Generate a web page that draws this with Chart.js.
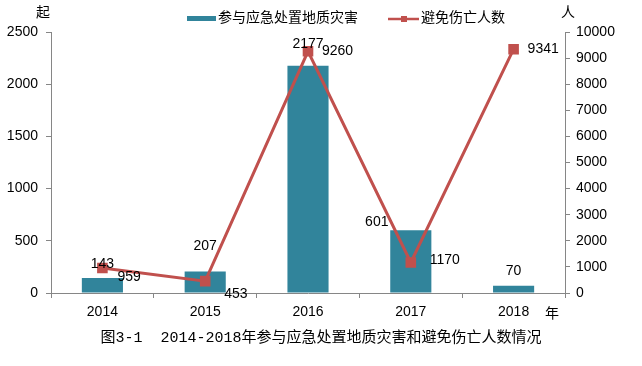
<!DOCTYPE html>
<html><head><meta charset="utf-8">
<script src="https://cdn.jsdelivr.net/npm/chart.js@4.4.0/dist/chart.umd.min.js"></script>
<style>html,body{margin:0;padding:0;background:#fff;}#wrap{width:642px;height:366px;position:relative;}</style>
</head><body><div id="wrap"><canvas id="c" width="642" height="366"></canvas></div>
<script>
const categories = ['2014','2015','2016','2017','2018'];
const disasters = [143, 207, 2177, 601, 70];
const avoided = [959, 453, 9260, 1170, 9341];
const leftTicks = [0, 500, 1000, 1500, 2000, 2500];
const rightTicks = [0,1000,2000,3000,4000,5000,6000,7000,8000,9000,10000];
const seriesNames = ['参与应急处置地质灾害', '避免伤亡人数'];
const caption = '图3-1  2014-2018年参与应急处置地质灾害和避免伤亡人数情况';

const BAR = '#31849B', LINE = '#C0504D';
const NUMFAM = 'Arial, "Liberation Sans", sans-serif';
const NUMFONT = '14px Arial, "Liberation Sans", sans-serif';
const CJKFONT = '14px "Noto Sans CJK SC", sans-serif';

// label offsets (px) relative to the mark
const barLabelOff = [[0,-14],[0,-25],[0,-22],[-34,-8],[0,-15]];
const lineLabelOff = [[15,9],[19,13],[14,0],[19,-2],[14,0]];

const labelsPlugin = {
  id: 'labels',
  afterDatasetsDraw(chart) {
    const ctx = chart.ctx;
    ctx.save();
    ctx.font = NUMFONT; ctx.fillStyle = '#000'; ctx.textBaseline = 'middle';
    const mLine = chart.getDatasetMeta(0), mBar = chart.getDatasetMeta(1);
    mBar.data.forEach((el, i) => {
      ctx.textAlign = 'center';
      ctx.fillText(String(disasters[i]), el.x + barLabelOff[i][0], el.y + barLabelOff[i][1]);
    });
    mLine.data.forEach((el, i) => {
      ctx.textAlign = 'left';
      ctx.fillText(String(avoided[i]), el.x + lineLabelOff[i][0], el.y + lineLabelOff[i][1]);
    });
    // unit labels
    ctx.font = CJKFONT;
    ctx.textAlign = 'center';
    const ca = chart.chartArea;
    ctx.fillText('起', ca.left - 8, 12);
    ctx.fillText('人', ca.right + 3, 12);
    ctx.fillText('年', ca.right - 13, 313);
    // caption
    ctx.font = '15px "Liberation Mono", "Noto Sans CJK SC", monospace';
    ctx.fillText(caption, 321, 338);
    // legend
    ctx.fillStyle = BAR;
    ctx.fillRect(187, 16, 29, 5);
    ctx.fillStyle = '#000'; ctx.textAlign = 'left'; ctx.font = CJKFONT;
    ctx.fillText(seriesNames[0], 218, 17);
    ctx.strokeStyle = LINE; ctx.lineWidth = 2.5;
    ctx.beginPath(); ctx.moveTo(388, 19); ctx.lineTo(419, 19); ctx.stroke();
    ctx.fillStyle = LINE; ctx.fillRect(401, 16, 6, 6);
    ctx.fillStyle = '#000';
    ctx.fillText(seriesNames[1], 421, 17);
    ctx.restore();
  }
};

new Chart(document.getElementById('c'), {
  data: {
    labels: categories,
    datasets: [
      { type: 'line', label: seriesNames[1], data: avoided, yAxisID: 'y1',
        borderColor: LINE, backgroundColor: LINE, borderWidth: 3,
        pointStyle: 'rect', pointRadius: 7.5, pointBorderWidth: 0,
        pointBackgroundColor: LINE, tension: 0, order: 0 },
      { type: 'bar', label: seriesNames[0], data: disasters, yAxisID: 'y',
        backgroundColor: BAR, categoryPercentage: 1, barPercentage: 0.4, order: 1 }
    ]
  },
  options: {
    responsive: false, animation: false,
    layout: { padding: { top: 32, bottom: 43, left: 0, right: 0 } },
    plugins: { legend: { display: false }, tooltip: { enabled: false } },
    scales: {
      x: { offset: true,
        grid: { offset: true, drawOnChartArea: false, drawTicks: true, tickLength: 5, color: '#868686' },
        border: { color: '#868686', width: 1 },
        ticks: { font: { family: NUMFAM, size: 14 }, color: '#000', padding: 6 },
        afterFit(s) { s.height = 30; } },
      y: { position: 'left', min: 0, max: 2500,
        afterBuildTicks(s) { s.ticks = leftTicks.map(v => ({ value: v })); },
        grid: { drawOnChartArea: false, drawTicks: true, tickLength: 5, color: '#868686' },
        border: { color: '#868686', width: 1 },
        ticks: { font: { family: NUMFAM, size: 14 }, color: '#000', padding: 8, callback: v => String(v) },
        afterFit(s) { s.width = 51; } },
      y1: { position: 'right', min: 0, max: 10000,
        afterBuildTicks(s) { s.ticks = rightTicks.map(v => ({ value: v })); },
        grid: { drawOnChartArea: false, drawTicks: true, tickLength: 5, color: '#868686' },
        border: { color: '#868686', width: 1 },
        ticks: { font: { family: NUMFAM, size: 14 }, color: '#000', padding: 6, callback: v => String(v) },
        afterFit(s) { s.width = 77; } }
    }
  },
  plugins: [labelsPlugin]
});
</script></body></html>
